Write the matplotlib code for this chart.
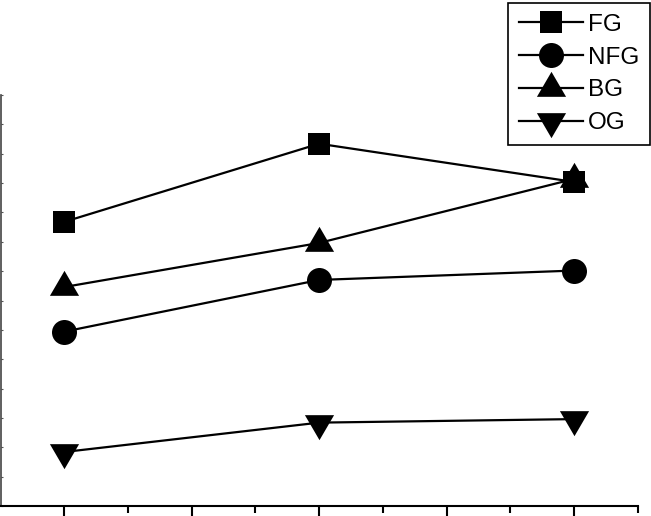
import numpy as np
import matplotlib
matplotlib.use("Agg")
import matplotlib.pyplot as plt

plt.rcParams['font.family'] = ['Liberation Sans', 'DejaVu Sans']

x = [1, 2, 3]
fg = [48.4, 61.7, 55.2]
nfg = [29.7, 38.5, 40.1]
bg = [37.3, 44.8, 55.7]
og = [9.2, 14.2, 14.8]
labels = ['FG', 'NFG', 'BG', 'OG']

# triangles centred on their centroid, like the original software
tri_up = [(0, 2), (-1.75, -1), (1.75, -1), (0, 2)]
tri_dn = [(0, -2), (-1.75, 1), (1.75, 1), (0, -2)]

fig = plt.figure(figsize=(6.51, 5.16), dpi=100)
ax = fig.add_axes([0.6 / 651, 10 / 516, 637 / 651, 411 / 516])

kw = dict(color='black', linewidth=1.6, markeredgewidth=0)
ax.plot(x, fg, marker='s', markersize=16.5, label=labels[0], **kw)
ax.plot(x, nfg, marker='o', markersize=18, label=labels[1], **kw)
ax.plot(x, bg, marker=tri_up, markersize=24, label=labels[2], **kw)
ax.plot(x, og, marker=tri_dn, markersize=24, label=labels[3], **kw)

ax.set_xlim(0.75, 3.25)
ax.set_ylim(0, 70)
ax.set_xticks(np.arange(1, 3.01, 0.5))
ax.set_xticks(np.arange(1.25, 3.26, 0.5), minor=True)
ax.set_yticks(np.arange(0, 70.1, 5))
ax.tick_params(axis='x', which='major', direction='out', length=9, width=1.5,
               labelbottom=False)
ax.tick_params(axis='x', which='minor', direction='out', length=5, width=1.5)
ax.tick_params(axis='y', direction='in', length=1.5, width=0.8,
               color='#555555', labelleft=False)

for s in ['top', 'right']:
    ax.spines[s].set_visible(False)
ax.spines['bottom'].set_linewidth(1.5)
ax.spines['left'].set_linewidth(1.2)
ax.spines['left'].set_color('#444444')

leg = ax.legend(loc='lower right', bbox_to_anchor=(650 / 651, 1 - 145 / 516),
                bbox_transform=fig.transFigure, borderaxespad=0,
                fontsize=17.5, numpoints=1, handlelength=2.63,
                handletextpad=0.2, labelspacing=0.44, borderpad=0.45,
                fancybox=False, framealpha=1)
leg.get_frame().set_edgecolor('black')
leg.get_frame().set_linewidth(1.2)

fig.savefig('out.png', dpi=100)
